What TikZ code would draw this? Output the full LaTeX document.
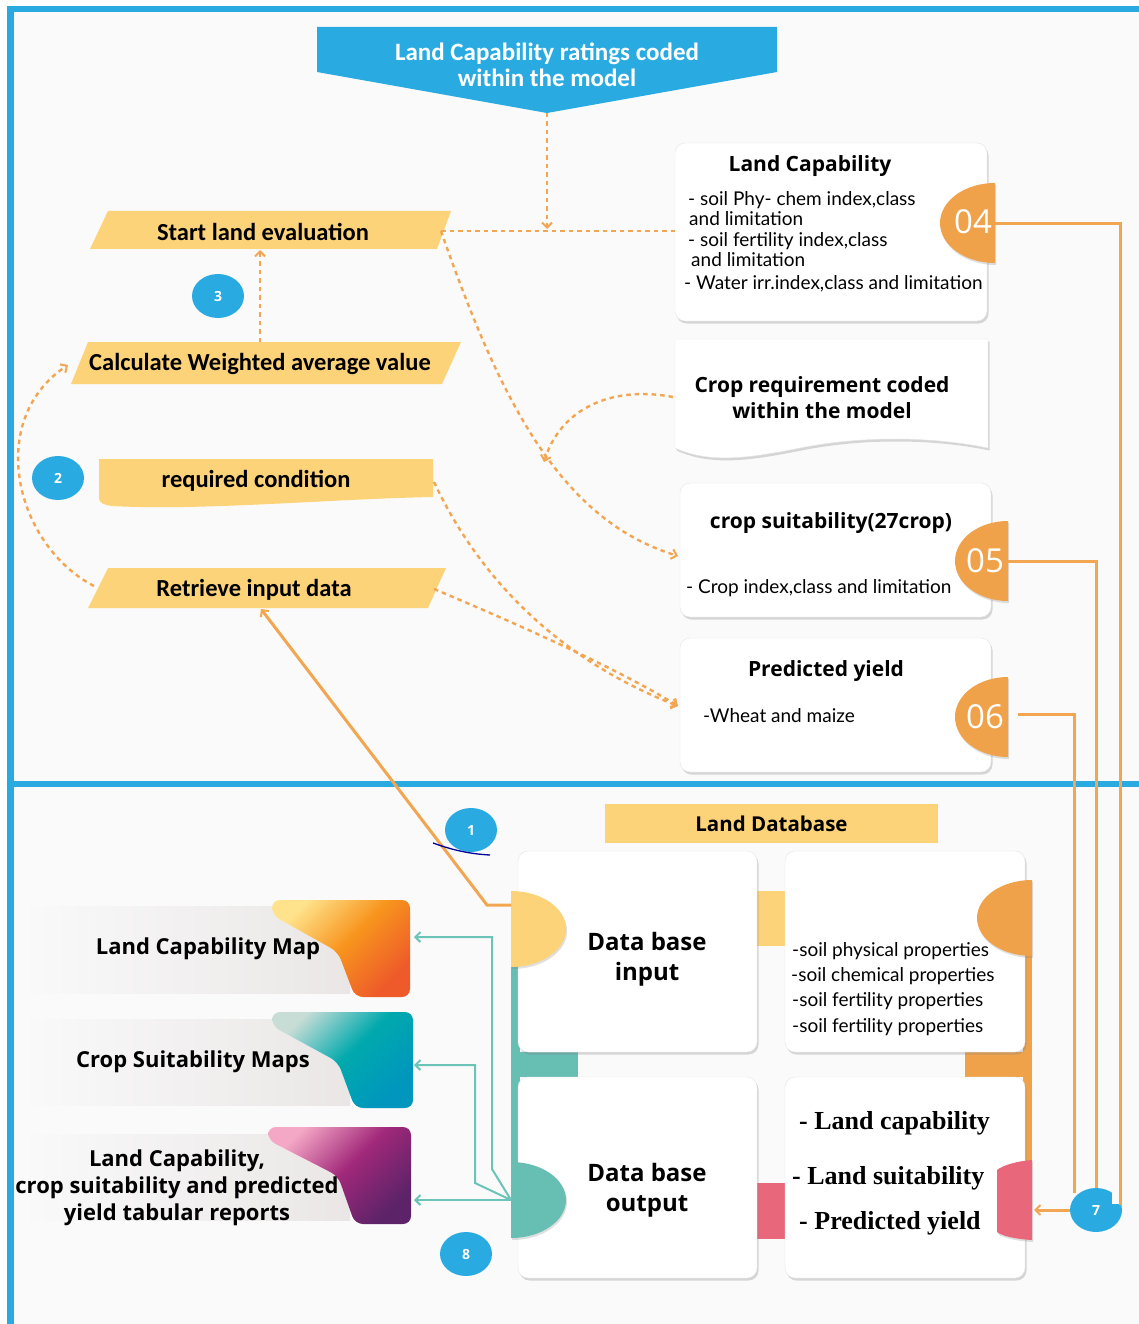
\documentclass[tikz,border=0pt]{standalone}
\usepackage{fontspec}
\setmainfont{Open Sans}
\newfontfamily\calib{Carlito}
\newfontfamily\lato{Lato}
\newfontfamily\timesf{Liberation Serif}
\usetikzlibrary{arrows.meta,shadows,shapes.geometric}

\definecolor{fblue}{HTML}{29ABE2}
\definecolor{fyellow}{HTML}{FDD379}
\definecolor{forange}{HTML}{F0A24B}
\definecolor{fline}{HTML}{F2A651}
\definecolor{fteal}{HTML}{67BFB4}
\definecolor{ftline}{HTML}{6CC3B8}
\definecolor{fpink}{HTML}{E8677A}
\definecolor{fbg}{HTML}{FAFAFA}
\definecolor{fband}{HTML}{EAE6E6}
% tile gradients
\definecolor{mapAa}{HTML}{FFE38C}
\definecolor{mapAb}{HTML}{F7941D}
\definecolor{mapAc}{HTML}{EE5A2A}
\definecolor{mapBa}{HTML}{C8DDD6}
\definecolor{mapBb}{HTML}{00A9AD}
\definecolor{mapBc}{HTML}{0096BE}
\definecolor{mapCa}{HTML}{F5A8C6}
\definecolor{mapCb}{HTML}{A1287A}
\definecolor{mapCc}{HTML}{5C2368}

\newcommand\fstep{\calib\bfseries\fontsize{24.5}{28}\selectfont}
\newcommand\ftitle{\bfseries\fontsize{21}{26}\selectfont}
\newcommand\fbig{\bfseries\fontsize{24}{30}\selectfont}
\newcommand\fitem{\lato\fontsize{19}{20}\selectfont}
\newcommand\fnum{\fontsize{33}{33}\selectfont}
\newcommand\fres{\timesf\bfseries\fontsize{26}{28}\selectfont}
\newcommand\fmap{\bfseries\fontsize{22}{27}\selectfont}

\tikzset{
  dotline/.style={fline, line width=2.4pt, dash pattern=on 4.5pt off 4pt},
  tip/.style={-{Straight Barb[length=5pt,width=10pt,line width=2pt]}},
  oline/.style={fline, line width=3pt},
  tline/.style={ftline, line width=2pt},
  card/.style={draw=black!10, fill=white, rounded corners=10pt,
    drop shadow={opacity=0.3, shadow xshift=1.5pt, shadow yshift=-2.5pt}},
  stepbox/.style={fill=fyellow},
  badge/.style={ellipse, fill=fblue, text=white, minimum width=52pt,
    minimum height=44pt, inner sep=0pt, font=\bfseries\fontsize{14}{14}\selectfont},
  lbl/.style={inner sep=0pt, align=center},
  itm/.style={inner sep=0pt, anchor=west, font=\fitem},
  disc/.style={drop shadow={opacity=0.25, shadow xshift=1pt, shadow yshift=-2pt}}
}

\begin{document}
\begin{tikzpicture}[x=1pt,y=-1pt]
\useasboundingbox (0,0) rectangle (1139,1324);
\fill[white] (0,0) rectangle (1139,1324);
\fill[fbg] (14,12) rectangle (1139,1324);

% frame and divider
\fill[fblue] (7,6) rectangle (14,1324);
\fill[fblue] (7,6) rectangle (1139,12);
\fill[fblue] (10,781) rectangle (1139,787);

% ---------- upper part ----------
% banner
\fill[fblue] (317,27) -- (777,27) -- (777,72) -- (547,113) -- (317,72) -- cycle;
\node[lbl, text=white, font=\calib\bfseries\fontsize{25}{26}\selectfont] (banner) at (547,65)
  {Land Capability ratings coded\\within the model};
\coordinate (bannertip) at (547,113);

% process steps
\fill[stepbox] (108,211) -- (451,211) -- (437,249) -- (90,249) -- cycle;
\node[lbl, font=\fstep] (start) at (263,232) {Start land evaluation};
\coordinate (start-e) at (441,231);
\coordinate (start-s) at (260,250);

\fill[stepbox] (88,342) -- (461,342) -- (442,384) -- (71,384) -- cycle;
\node[lbl, font=\fstep] (calc) at (260,364) {Calculate Weighted average value};
\coordinate (calc-n) at (260,342);
\coordinate (calc-w) at (68,365);

\fill[stepbox] (99,459) -- (433,459) -- (433,497)
  .. controls (330,499) and (200,511) .. (112,506)
  .. controls (104,505) and (99,503) .. (99,498) -- cycle;
\node[lbl, font=\fstep] (req) at (256,481) {required condition};
\coordinate (req-e) at (434,482);

\fill[stepbox] (108,568) -- (446,568) -- (428,608) -- (88,608) -- cycle;
\node[lbl, font=\fstep] (retr) at (254,590) {Retrieve input data};
\coordinate (retr-w) at (94,586);
\coordinate (retr-e) at (434,589);
\coordinate (retr-s) at (261,609);

% badges
\node[badge] (b3) at (218,296) {3};
\node[badge] (b2) at (58,478) {2};

% Land Capability card
\node[card, minimum width=312pt, minimum height=178pt] (lcbox) at (831,232) {};
\node[lbl, font=\ftitle] (lct) at (810,166) {Land Capability};
\node[itm] (lc1) at (688,200) {- soil Phy- chem index,class};
\node[itm] (lc2) at (689,219) {and limitation};
\node[itm] (lc3) at (688,241) {- soil fertility index,class};
\node[itm] (lc4) at (691,260) {and limitation};
\node[itm] (lc5) at (684,284) {- Water irr.index,class and limitation};
\fill[forange, disc] (995,183) arc[start angle=270, end angle=90, x radius=55, y radius=40] -- cycle;
\node[lbl, text=white, font=\fnum] (n04) at (973,222) {04};
\coordinate (lc-w) at (675,231);

% Crop requirement document
\path[fill=white, draw=black!10, drop shadow={opacity=0.3, shadow xshift=1.5pt, shadow yshift=-2.5pt}]
  (675,339) -- (988,339) -- (988,448)
  .. controls (930,436) and (860,436) .. (800,448)
  .. controls (750,458) and (710,464) .. (675,448) -- cycle;
\node[lbl, font=\ftitle] (creq) at (822,398) {Crop requirement coded\\within the model};
\coordinate (creq-w) at (673,397);

% crop suitability card
\node[card, minimum width=311pt, minimum height=134pt] (csbox) at (835.5,550) {};
\node[lbl, font=\ftitle] (cst) at (831,523) {crop suitability(27crop)};
\node[itm] (cs1) at (686,588) {- Crop index,class and limitation};
\fill[forange, disc] (1008,521) arc[start angle=270, end angle=90, x radius=53, y radius=40] -- cycle;
\node[lbl, text=white, font=\fnum] (n05) at (985,561) {05};
\coordinate (cs-w) at (678,556);

% predicted yield card
\node[card, minimum width=311pt, minimum height=134pt] (pybox) at (835.5,705) {};
\node[lbl, font=\ftitle] (pyt) at (826,671) {Predicted yield};
\node[itm] (py1) at (703,716) {-Wheat and maize};
\fill[forange, disc] (1008,677) arc[start angle=270, end angle=90, x radius=53, y radius=40] -- cycle;
\node[lbl, text=white, font=\fnum] (n06) at (985,717) {06};
\coordinate (py-w) at (678,706);

% dashed flow connectors
\coordinate (join) at (547,229);
\draw[dotline] (start-e) -- (lc-w);
\draw[dotline, tip] (bannertip) -- (join);
\draw[dotline, tip] (calc-n) -- (start-s);
\draw[dotline, tip] (retr-w) .. controls (15,545) and (-15,420) .. (calc-w);
\draw[dotline, tip] (start-e) .. controls (500,400) and (560,520) .. (cs-w);
\draw[dotline, tip] (creq-w) .. controls (610,385) and (560,410) .. (544,462);
\draw[dotline, tip] (req-e) .. controls (480,580) and (560,660) .. (py-w);
\draw[dotline, tip] (retr-e) .. controls (520,625) and (620,670) .. (py-w);

% ---------- lower part ----------
\node[fill=fyellow, minimum width=333pt, minimum height=39pt, inner sep=0pt,
  font=\bfseries\fontsize{20.5}{22}\selectfont] (ldb) at (771.5,823.5) {Land Database};

% joining bands behind the cards
\fill[fyellow] (755,891) rectangle (787,946);
\fill[fteal] (511,930) rectangle (520,1200);
\fill[fteal] (511,1052) rectangle (578,1077);
\fill[forange] (1023,918) rectangle (1032,1165);
\fill[forange] (965,1052) rectangle (1032,1077);
\fill[fpink] (755,1183) rectangle (787,1239);

\node[card, minimum width=239pt, minimum height=201pt] (dbin) at (637.5,951.5) {};
\node[card, minimum width=239pt, minimum height=201pt] (dbout) at (637.5,1177.5) {};
\node[card, minimum width=240pt, minimum height=201pt] (props) at (905,951.5) {};
\node[card, minimum width=240pt, minimum height=201pt] (res) at (905,1177.5) {};

\node[lbl, font=\fbig] (dbint) at (647,959) {Data base\\input};
\node[lbl, font=\fbig] (dboutt) at (647,1190) {Data base\\output};
\node[itm] (p1) at (792,951) {-soil physical properties};
\node[itm] (p2) at (791,976) {-soil chemical properties};
\node[itm] (p3) at (792,1001) {-soil fertility properties};
\node[itm] (p4) at (792,1027) {-soil fertility properties};
\node[itm, font=\fres] (r1) at (799,1123) {- Land capability};
\node[itm, font=\fres] (r2) at (792,1178) {- Land suitability};
\node[itm, font=\fres] (r3) at (799,1223) {- Predicted yield};

% half discs on the cards
\fill[fyellow, disc] (511,891) arc[start angle=-90, end angle=90, x radius=55, y radius=38] -- cycle;
\fill[fteal, disc] (511,1162) arc[start angle=-90, end angle=90, x radius=55, y radius=38] -- cycle;
\fill[forange, disc] (1032,880) arc[start angle=270, end angle=90, x radius=55, y radius=38] -- cycle;
\fill[fpink, disc] (1032,1160) -- (1032,1240) .. controls (1015,1239) and (1002,1236) .. (997,1232)
  -- (997,1170) .. controls (1003,1165) and (1018,1161) .. (1032,1160) -- cycle;
\coordinate (in-w) at (511,905);
\coordinate (out-w) at (511,1200);
\coordinate (res-e) at (1034,1210);

% output map tiles
\shade[left color=fbg, right color=fband] (20,906) rectangle (350,993);
\shade[left color=fbg, right color=fband] (20,1019) rectangle (350,1105);
\shade[left color=fbg, right color=fband] (20,1134) rectangle (350,1220);

\shade[rounded corners=8pt, top color=mapAa, bottom color=mapAc, middle color=mapAb, shading angle=45]
  (272,900) -- (410,900) -- (410,997) -- (355,997) -- (338,952) -- (272,915) -- cycle;
\shade[rounded corners=8pt, top color=mapBa, bottom color=mapBc, middle color=mapBb, shading angle=45]
  (272,1012) -- (413,1012) -- (413,1108) -- (355,1108) -- (338,1062) -- (272,1026) -- cycle;
\shade[rounded corners=8pt, top color=mapCa, bottom color=mapCc, middle color=mapCb, shading angle=45]
  (268,1127) -- (411,1127) -- (411,1224) -- (355,1224) -- (338,1176) -- (268,1140) -- cycle;

\node[lbl, font=\fmap] (m1) at (208,949) {Land Capability Map};
\node[lbl, font=\fmap] (m2) at (193,1062) {Crop Suitability Maps};
\node[lbl, font=\fmap] (m3) at (177,1188)
  {Land Capability,\\crop suitability and predicted\\yield tabular reports};
\coordinate (m1-e) at (414,937);
\coordinate (m2-e) at (414,1065);
\coordinate (m3-e) at (414,1200);

% output connectors
\draw[tline, tip] (out-w) -- (492,1169) -- (492,937) -- (m1-e);
\draw[tline, tip] (out-w) -- (475,1183) -- (475,1065) -- (m2-e);
\draw[tline, tip] (out-w) -- (m3-e);

% input connector up to the retrieval step
\draw[oline, tip] (in-w) -- (487,905) -- (retr-s);

% badges of the lower part
\node[badge] (b1) at (471,830) {1};
\node[badge] (b8) at (466,1254) {8};
\draw[blue!60!black, line width=1.3pt] (433,843) .. controls (455,851) and (472,854) .. (490,855);

% result lines collected at badge 7
\coordinate (r04) at (995,224);
\coordinate (r05) at (1008,561);
\coordinate (r06) at (1018,714);
\node[badge] (b7) at (1096,1210) {7};
\fill[fbg] (1112,1184) rectangle (1122,1204);
\draw[oline] (r04) -- (1120,224) -- (1120,1205);
\draw[oline] (r05) -- (1096,561) -- (1096,1188);
\draw[oline] (r06) -- (1074,714) -- (1074,1193);
\draw[oline, tip] (b7.west) -- (res-e);
\end{tikzpicture}
\end{document}
